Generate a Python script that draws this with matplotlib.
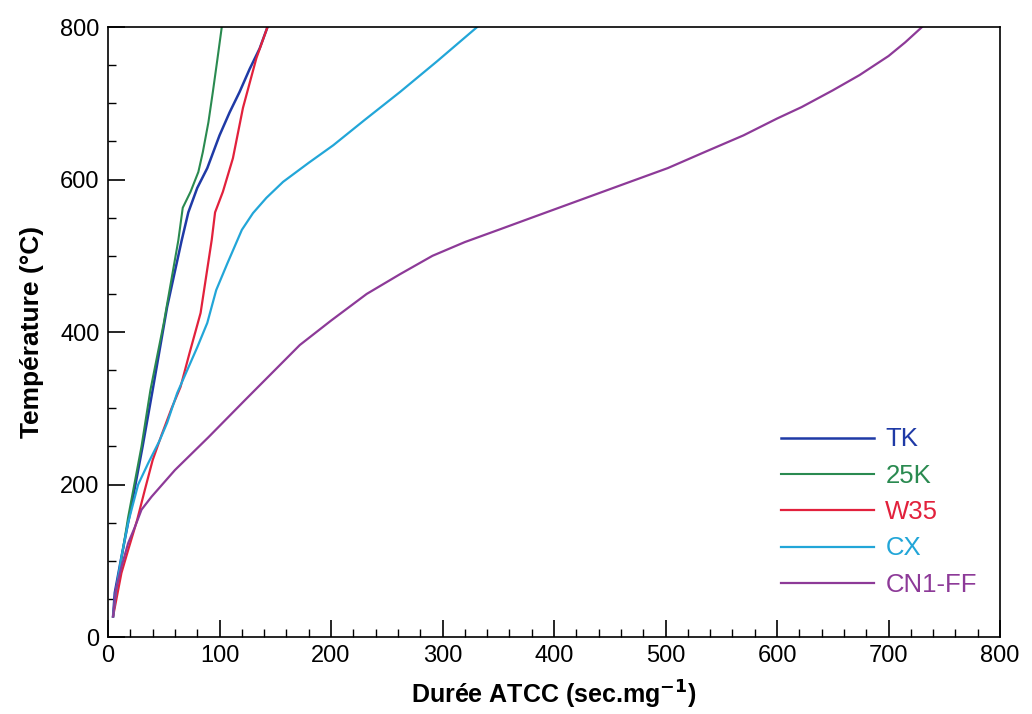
import numpy as np
import matplotlib.pyplot as plt
from matplotlib.ticker import MultipleLocator

# courbes (durée, température)
tk_x = [4.5, 6, 12, 22, 31, 40, 53, 66, 72, 80, 89, 100, 109, 118, 127, 136, 143]
tk_y = [27, 58, 105, 180, 250, 324, 433, 520, 557, 589, 615, 658, 688, 715, 745, 772, 800]

k25_x = [4.5, 9, 18, 30, 38, 50, 63, 67, 74, 81, 85, 90, 94, 98, 102]
k25_y = [27, 75, 157, 250, 324, 412, 520, 563, 584, 610, 636, 675, 715, 757, 800]

w35_x = [4.5, 12, 18, 26, 33, 40, 48, 57, 65, 73, 83, 93, 96, 103, 112, 121, 133, 143]
w35_y = [27, 84, 114, 153, 193, 232, 265, 300, 328, 372, 425, 521, 557, 584, 628, 694, 759, 800]

cx_x = [4.5, 7, 12, 18, 27, 36, 46, 53, 62, 71, 80, 89, 97, 107, 120, 130, 142, 157, 180, 202, 230, 262, 295, 331]
cx_y = [27, 60, 105, 150, 200, 228, 257, 281, 320, 350, 380, 412, 455, 490, 534, 556, 576, 597, 622, 645, 678, 715, 755, 800]

cn1_x = [4.5, 7, 12, 18, 24, 30, 39, 60, 90, 123, 172, 200, 232, 262, 291, 320, 352,
         380, 410, 440, 470, 502, 535, 570, 600, 622, 650, 674, 700, 715, 730]
cn1_y = [27, 62, 92, 123, 144, 167, 184, 219, 262, 311, 383, 415, 450, 476, 500, 518, 535,
         550, 566, 582, 598, 615, 636, 658, 680, 695, 717, 737, 762, 780, 800]

plt.rcParams['font.family'] = ['Liberation Sans', 'DejaVu Sans']

fig = plt.figure(figsize=(10.32, 7.14), dpi=100)
ax = fig.add_axes([0.1047, 0.1078, 0.8643, 0.8543])

ax.plot(tk_x, tk_y, color="#1f3aa6", lw=1.8, label="TK")
ax.plot(k25_x, k25_y, color="#2a8a50", lw=1.5, label="25K")
ax.plot(w35_x, w35_y, color="#e2213c", lw=1.6, label="W35")
ax.plot(cx_x, cx_y, color="#22a6d8", lw=1.6, label="CX")
ax.plot(cn1_x, cn1_y, color="#8d3a98", lw=1.6, label="CN1-FF")

ax.set_xlim(0, 800)
ax.set_ylim(0, 800)
ax.xaxis.set_major_locator(MultipleLocator(100))
ax.xaxis.set_minor_locator(MultipleLocator(20))
ax.yaxis.set_major_locator(MultipleLocator(200))
ax.yaxis.set_minor_locator(MultipleLocator(50))
ax.tick_params(which="both", direction="in", top=False, right=False, labelsize=17)
ax.tick_params(which="major", length=12, width=1.2, pad=6)
ax.tick_params(which="minor", length=6, width=1)
for s in ax.spines.values():
    s.set_linewidth(1.2)

ax.set_xlabel("Durée ATCC (sec.mg$^{\\mathbf{-1}}$)", fontsize=18, fontweight="bold", labelpad=8)
ax.set_ylabel("Température (°C)", fontsize=19, fontweight="bold", labelpad=12)

leg = ax.legend(loc="lower right", bbox_to_anchor=(1.0, 0.028), frameon=False, fontsize=18.5,
                handlelength=3.6, labelspacing=0.48, handletextpad=0.45, labelcolor="linecolor")

fig.savefig("out.png", dpi=100)
